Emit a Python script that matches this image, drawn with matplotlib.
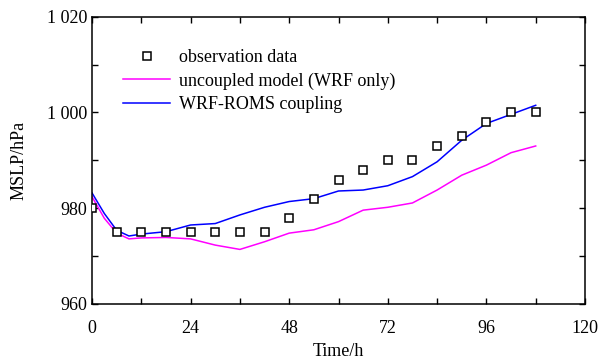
import matplotlib
matplotlib.use('Agg')
import matplotlib.pyplot as plt
from matplotlib.ticker import MultipleLocator, FuncFormatter

# observation (every 6 h)
obs_t = [0, 6, 12, 18, 24, 30, 36, 42, 48, 54, 60, 66, 72, 78, 84, 90, 96, 102, 108]
obs_p = [980, 975, 975, 975, 975, 975, 975, 975, 978, 982, 986, 988, 990, 990, 993, 995, 998, 1000, 1000]

# model runs
mod_t = [0, 3, 6, 9, 12, 18, 24, 30, 36, 42, 48, 54, 60, 66, 72, 78, 84, 90, 96, 102, 108]
wrf_only = [982.4, 977.9, 974.8, 973.6, 973.8, 973.9, 973.6, 972.3, 971.4, 973.0, 974.8, 975.5,
            977.2, 979.6, 980.2, 981.1, 983.8, 986.9, 989.0, 991.6, 993.0]
wrf_roms = [983.2, 978.9, 975.4, 974.2, 974.6, 975.1, 976.5, 976.8, 978.6, 980.2, 981.4, 982.0,
            983.6, 983.8, 984.7, 986.6, 989.7, 994.2, 997.7, 999.6, 1001.5]

plt.rcParams['font.family'] = ['Liberation Serif', 'DejaVu Serif']
plt.rcParams['font.size'] = 13

fig = plt.figure(figsize=(5.98, 3.58), dpi=100)
ax = fig.add_axes([92/598, 1-304/358, 493/598, 287.3/358])

ax.plot(obs_t, obs_p, 's', ms=6, mfc='white', mec='black', mew=1.1, label='observation data', zorder=3)
ax.plot(mod_t, wrf_only, color='#ff00ff', lw=1.1, label='uncoupled model (WRF only)')
ax.plot(mod_t, wrf_roms, color='#0000ff', lw=1.1, label='WRF-ROMS coupling')

ax.set_xlim(0, 120)
ax.set_ylim(960, 1020)
ax.xaxis.set_major_locator(MultipleLocator(24))
ax.xaxis.set_minor_locator(MultipleLocator(12))
ax.yaxis.set_major_locator(MultipleLocator(20))
ax.yaxis.set_minor_locator(MultipleLocator(10))
ax.yaxis.set_major_formatter(FuncFormatter(lambda v, p: '{:,.0f}'.format(v).replace(',', ' ')))
ax.tick_params(which='both', direction='in', top=True, right=True, length=4, width=1, labelsize=13)
ax.tick_params(axis='x', pad=11.5)
for s in ax.spines.values():
    s.set_linewidth(1.1)

ax.set_xlabel('Time/h', size=13, labelpad=4)
ax.set_ylabel('MSLP/hPa', size=13, labelpad=14)

ax.legend(loc='upper left', bbox_to_anchor=(0.063, 0.888), frameon=False, borderpad=0,
          borderaxespad=0, handlelength=2.6, handletextpad=0.5, labelspacing=0.36, fontsize=13)

plt.savefig('out.png', dpi=100)
